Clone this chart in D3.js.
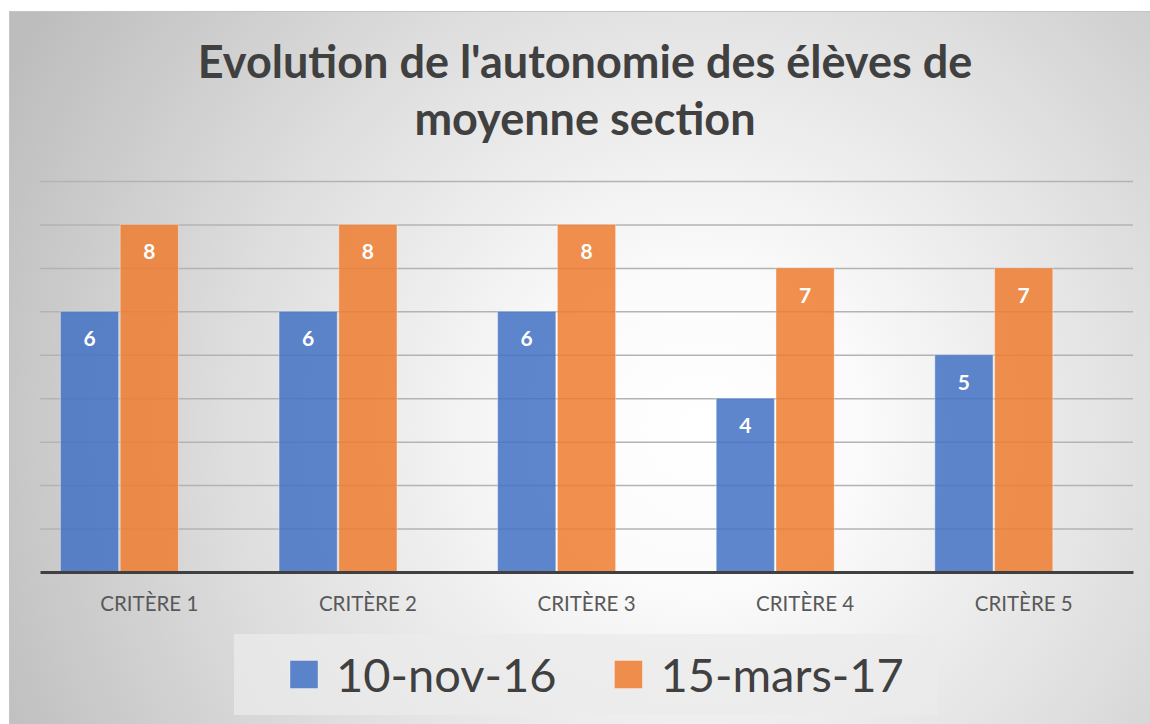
<!DOCTYPE html>
<html>
<head>
<meta charset="utf-8">
<script src="https://cdn.jsdelivr.net/npm/d3@7"></script>
<style>
  body { margin: 0; background: #fff; }
  svg { display: block; }
</style>
</head>
<body>
<div id="chart"></div>
<script>
// chart data
var categories = ["CRITÈRE 1", "CRITÈRE 2", "CRITÈRE 3", "CRITÈRE 4", "CRITÈRE 5"];
var seriesNames = ["10-nov-16", "15-mars-17"];
var novValues = [6, 6, 6, 4, 5];
var marsValues = [8, 8, 8, 7, 7];
var yTicks = [0, 1, 2, 3, 4, 5, 6, 7, 8, 9];
var titleLines = ["Evolution de l'autonomie des élèves de", "moyenne section"];

var colors = ["#4472c4", "#ed7d31"];
var W = 1150, H = 724;
var font = "Lato, 'Open Sans', sans-serif";

var svg = d3.select("#chart").append("svg")
  .attr("width", W)
  .attr("height", H);

//background gradient (excel style radial)
var defs = svg.append("defs");
var grad = defs.append("radialGradient")
  .attr("id", "bg")
  .attr("gradientUnits", "userSpaceOnUse")
  .attr("cx", 700).attr("cy", 430)
  .attr("r", 780);
grad.append("stop").attr("offset", "0").attr("stop-color", "#ffffff");
grad.append("stop").attr("offset", "0.2").attr("stop-color", "#fbfbfb");
grad.append("stop").attr("offset", "0.6").attr("stop-color", "#dedede");
grad.append("stop").attr("offset", "1").attr("stop-color", "#bdbdbd");

svg.append("rect")
  .attr("x", 9.5).attr("y", 11.5)
  .attr("width", W - 9).attr("height", H - 11)
  .attr("fill", "url(#bg)")
  .attr("stroke", "#c4c4c4")
  .attr("stroke-width", 1);

// title
svg.append("g").selectAll("text")
  .data(titleLines)
  .enter()
  .append("text")
    .attr("x", 585)
    .attr("y", function(d, i){ return 78 + i * 57; })
    .attr("text-anchor", "middle")
    .attr("font-family", font)
    .attr("font-weight", "bold")
    .attr("font-size", 45)
    .attr("fill", "#404040")
    .text(function(d){ return d; });

// scales
var plot = { left: 40, right: 1133, top: 181, bottom: 572 };

var x = d3.scaleBand()
  .domain(categories)
  .range([plot.left, plot.right])
  .paddingInner(0.187)
  .paddingOuter(0.0935);

//excel keeps a third empty slot in each group
var slots = seriesNames.concat([""]);
var x1 = d3.scaleBand()
  .domain(slots)
  .range([0, x.bandwidth()])
  .paddingInner(0.027);

var y = d3.scaleLinear()
  .domain([0, 9])
  .range([plot.bottom, plot.top]);

// gridlines
var yGrid = d3.axisLeft(y)
  .tickValues(yTicks.slice(1))
  .tickSize(-(plot.right - plot.left))
  .tickFormat("");

svg.append("g")
  .attr("class", "grid")
  .attr("transform", `translate(${plot.left},0)`)
  .call(yGrid)
  .call(function(g){
    g.select(".domain").remove();
    g.selectAll("line")
      .attr("stroke", "#b3b3b3")
      .attr("stroke-width", 1.5);
  });

// bars
var seriesValues = [novValues, marsValues];
var rows = [];
categories.forEach(function(c, i){
  seriesNames.forEach(function(s, j){
    rows.push({ cat: c, series: s, idx: j, value: seriesValues[j][i] });
  });
});

var bars = svg.append("g").selectAll("g")
  .data(rows)
  .enter()
  .append("g")
    .attr("transform", function(d){ return `translate(${x(d.cat) + x1(d.series)},0)`; });

bars.append("rect")
  .attr("y", function(d){ return y(d.value); })
  .attr("width", x1.bandwidth())
  .attr("height", function(d){ return y(0) - y(d.value); })
  .attr("fill", function(d){ return colors[d.idx]; })
  .attr("fill-opacity", 0.86)
  .attr("stroke", "#ffffff")
  .attr("stroke-opacity", 0.35)
  .attr("stroke-width", 1);

bars.append("text")
  .attr("x", x1.bandwidth() / 2)
  .attr("y", function(d){ return y(d.value) + 35; })
  .attr("text-anchor", "middle")
  .attr("font-family", font)
  .attr("font-weight", "bold")
  .attr("font-size", 21)
  .attr("fill", "#ffffff")
  .text(function(d){ return d.value; });

// x axis
var xAxis = d3.axisBottom(x)
  .tickSize(0)
  .tickPadding(0);

svg.append("g")
  .attr("transform", `translate(0,${plot.bottom})`)
  .call(xAxis)
  .call(function(g){
    g.select(".domain")
      .attr("stroke", "#404040")
      .attr("stroke-width", 3);
    g.selectAll("text")
      .attr("y", 39)
      .attr("dy", 0)
      .attr("font-family", font)
      .attr("font-size", 20.5)
      .attr("fill", "#595959");
  });

// legend
var legend = svg.append("g");
legend.append("rect")
  .attr("x", 234).attr("y", 634)
  .attr("width", 704).attr("height", 81)
  .attr("fill", "#ebebeb")
  .attr("fill-opacity", 0.75);

var lx = 290;
seriesNames.forEach(function(s, i){
  legend.append("rect")
    .attr("x", lx).attr("y", 660.5)
    .attr("width", 28).attr("height", 28)
    .attr("fill", colors[i])
    .attr("fill-opacity", 0.86)
    .attr("stroke", "#ffffff")
    .attr("stroke-opacity", 0.35);
  var t = legend.append("text")
    .attr("x", lx + 46)
    .attr("y", 692)
    .attr("font-family", font)
    .attr("font-size", 47)
    .attr("fill", "#404040")
    .text(s);
  lx = lx + 46 + t.node().getComputedTextLength() + 58;
});
</script>
</body>
</html>
